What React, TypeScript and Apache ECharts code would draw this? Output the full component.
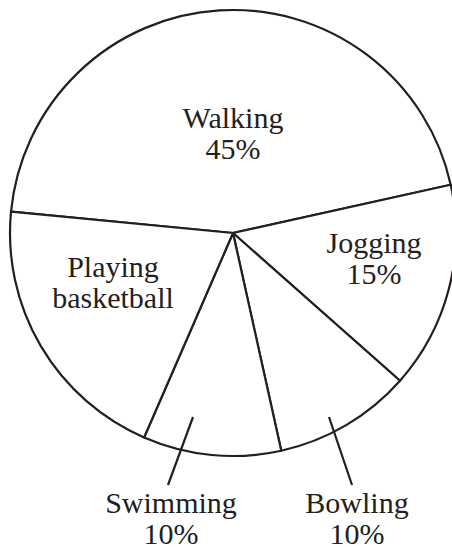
import React, { useEffect, useRef } from "react";
import * as echarts from "echarts";

// Data, in clockwise order starting from the left edge of the "Walking" slice
const activities = ["Walking", "Jogging", "Bowling", "Swimming", "Playing basketball"];
const labelNames = ["Walking", "Jogging", "Bowling", "Swimming", "Playing\nbasketball"];
const percentages = [45, 15, 10, 10, 20];
const showPercent = [true, true, true, true, false];

const INK = "#231f20";
const FONT = "'Liberation Serif', 'Times New Roman', serif";
const CX = 233;
const CY = 233;
const R = 223;
const START_ANGLE = 174.5;

// label anchor offsets relative to the pie centre
const labelOffsets: [number, number][] = [
  [0, -100],
  [141, 25],
  [124, 285],
  [-62, 285],
  [-120, 49],
];
// leader lines (start, end) relative to the pie centre, for labels placed outside
const leaderOffsets: ([number, number][] | null)[] = [
  null,
  null,
  [[96, 184], [119, 252]],
  [[-40, 184], [-65, 252]],
  null,
];

export default function App() {
  const ref = useRef<HTMLDivElement>(null);
  useEffect(() => {
    if (!ref.current) return;
    const chart = echarts.init(ref.current, undefined, { renderer: "svg" });
    const data = activities.map((name, i) => ({ name, value: percentages[i] }));
    const leaders = leaderOffsets
      .filter((l): l is [number, number][] => !!l)
      .map((l) => ({
        type: "line",
        silent: true,
        z: 10,
        shape: {
          x1: CX + l[0][0],
          y1: CY + l[0][1],
          x2: CX + l[1][0],
          y2: CY + l[1][1],
        },
        style: { stroke: INK, lineWidth: 2.2, lineCap: "butt" },
      }));
    chart.setOption({
      animation: false,
      backgroundColor: "#ffffff",
      graphic: { elements: leaders },
      series: [
        {
          type: "pie",
          center: [CX, CY],
          radius: [0, R],
          startAngle: START_ANGLE,
          clockwise: true,
          avoidLabelOverlap: false,
          silent: true,
          emphasis: { disabled: true },
          itemStyle: { color: "#ffffff", borderColor: INK, borderWidth: 2.2 },
          label: {
            show: true,
            position: "inside",
            color: INK,
            fontFamily: FONT,
            fontSize: 30,
            lineHeight: 31,
            align: "center",
            textBorderWidth: 0,
            formatter: (p: any) =>
              labelNames[p.dataIndex] + (showPercent[p.dataIndex] ? "\n" + p.value + "%" : ""),
          },
          labelLine: { show: false },
          labelLayout: (params: any) => {
            const [dx, dy] = labelOffsets[params.dataIndex];
            return {
              x: CX + dx,
              y: CY + dy,
              align: "center",
              verticalAlign: "middle",
            };
          },
          data,
        },
      ],
    });
    return () => chart.dispose();
  }, []);
  return (
    <div
      ref={ref}
      style={{ position: "fixed", left: 0, top: 0, width: 452, height: 550 }}
    />
  );
}
